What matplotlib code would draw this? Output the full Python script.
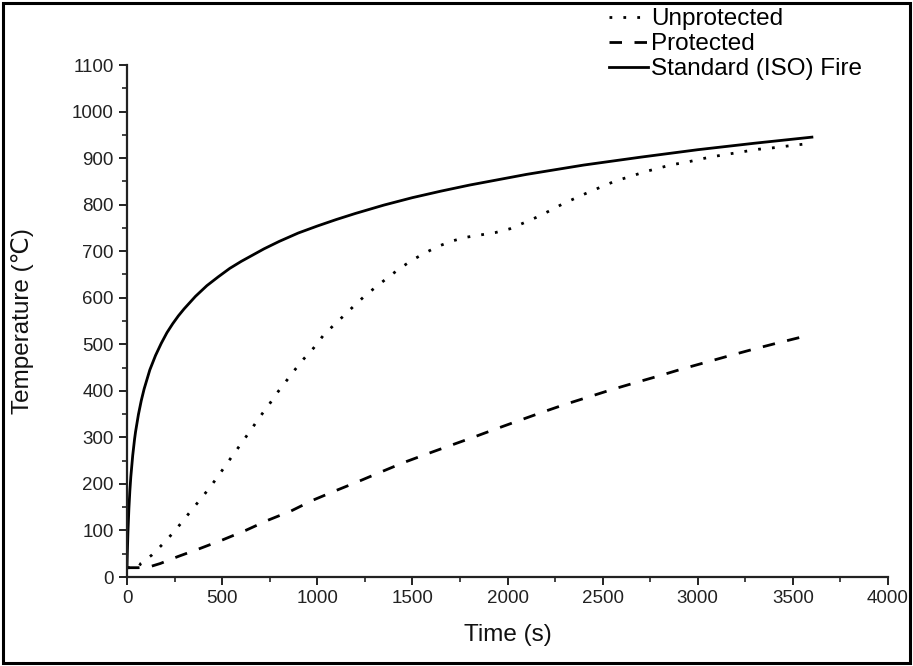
# fire_curves.py
# steel section temperature vs ISO 834 standard fire
# values

import matplotlib
matplotlib.use('Agg')
import matplotlib.pyplot as plt
from matplotlib.patches import Rectangle

# standard (ISO) fire curve
iso_time = [0, 2, 5, 10, 15, 20, 30, 40, 45, 60, 75, 90, 120, 150, 180, 210,
            240, 270, 300, 360, 420, 480, 540, 600, 720, 800, 900, 1000,
            1100, 1200, 1350, 1500, 1650, 1800, 2100, 2400, 2700, 3000,
            3300, 3600]
iso_temp = [20, 55, 97, 147, 185, 215, 261, 297, 312, 349, 379, 404, 445, 476,
            502, 525, 544, 561, 576, 603, 626, 645, 663, 678, 705, 721, 739,
            754, 768, 781, 799, 815, 829, 842, 865, 885, 902, 918,
            932, 945]

# unprotected steel
unp_time = [0, 60, 72, 130, 186, 238, 285, 334, 382, 431, 478, 522, 566, 613,
            658, 702, 746, 790, 837, 884, 930, 981, 1030, 1084, 1136, 1192,
            1250, 1311, 1373, 1434, 1500, 1570, 1639, 1710, 1784, 1859, 1936,
            2012, 2081, 2148, 2213, 2283, 2357, 2428, 2498, 2568, 2642, 2717,
            2790, 2866, 2940, 3015, 3092, 3167, 3242, 3319, 3394, 3473, 3600]
unp_temp = [20, 20, 29, 47, 70, 93, 116, 141, 165, 190, 216, 242, 267, 294,
            320, 346, 370, 396, 421, 446, 469, 492, 518, 540, 560, 582,
            604, 624, 644, 663, 681, 697, 711, 722, 730, 735, 740,
            748, 760, 772, 785, 800, 814, 827, 839, 851, 860, 870,
            878, 886, 891, 898, 904, 909, 914, 919, 922, 926, 932]

# protected steel
pro_time = [0, 60, 119, 175, 268, 382, 504, 623, 741, 863, 977, 1100, 1215,
            1337, 1455, 1574, 1696, 1819, 1938, 2060, 2183, 2304, 2428, 2551,
            2668, 2796, 2918, 3041, 3163, 3289, 3412, 3570]
pro_temp = [20, 20, 22, 29, 44, 61, 80, 100, 122, 142, 165, 186, 205,
            226, 246, 264, 282, 300, 318, 336, 354, 371, 387, 403,
            417, 432, 447, 461, 475, 489, 502, 518]

X_TICKS = [0, 500, 1000, 1500, 2000, 2500, 3000, 3500, 4000]
Y_TICKS = [0, 100, 200, 300, 400, 500, 600, 700, 800, 900, 1000, 1100]

plt.rcParams['font.family'] = ['Liberation Sans', 'DejaVu Sans']

W, H = 913, 666
fig = plt.figure(figsize=(W / 100, H / 100), dpi=100)
ax = fig.add_axes([127 / W, 1 - 577 / H, (888 - 127) / W, (577 - 65) / H])

ax.plot(unp_time, unp_temp, color='black', linewidth=2.0,
        linestyle=(0, (1, 4)), label='Unprotected')
ax.plot(pro_time, pro_temp, color='black', linewidth=2.0,
        linestyle=(0, (4.5, 4.5)), label='Protected')
ax.plot(iso_time, iso_temp, color='black', linewidth=2.0,
        linestyle='-', label='Standard (ISO) Fire')

ax.set_xlim(0, 4000)
ax.set_ylim(0, 1100)
ax.set_xticks(X_TICKS)
ax.set_yticks(Y_TICKS)
ax.set_xticks([x + 250 for x in X_TICKS[:-1]], minor=True)
ax.set_yticks([y + 50 for y in Y_TICKS[:-1]], minor=True)

for side in ['top', 'right']:
    ax.spines[side].set_visible(False)
for side in ['left', 'bottom']:
    ax.spines[side].set_linewidth(1.6)
    ax.spines[side].set_color('#222222')

ax.tick_params(which='major', direction='out', length=6, width=1.4,
               labelsize=13.5, colors='#222222')
ax.tick_params(which='minor', direction='out', length=3.5, width=1.2,
               colors='#222222')

ax.set_xlabel('Time (s)', fontsize=17.5, color='#111111')
ax.set_ylabel('Temperature (\u2103)', fontsize=17.5, color='#111111')
ax.xaxis.set_label_coords(0.5, -0.092)
ax.yaxis.set_label_coords(-0.122, 0.5)

ax.legend(loc='upper left', bbox_to_anchor=(609 / W, 1 - 8 / H),
          bbox_transform=fig.transFigure, frameon=False, fontsize=17.5,
          handlelength=1.6, handletextpad=0.12, labelspacing=0.13,
          borderpad=0, borderaxespad=0)

# black frame round the whole picture
fig.patches.append(Rectangle((0.003, 0.004), 0.994, 0.992,
                             transform=fig.transFigure, fill=False,
                             edgecolor='black', linewidth=2.2))

fig.savefig('out.png', dpi=100)
plt.close(fig)
